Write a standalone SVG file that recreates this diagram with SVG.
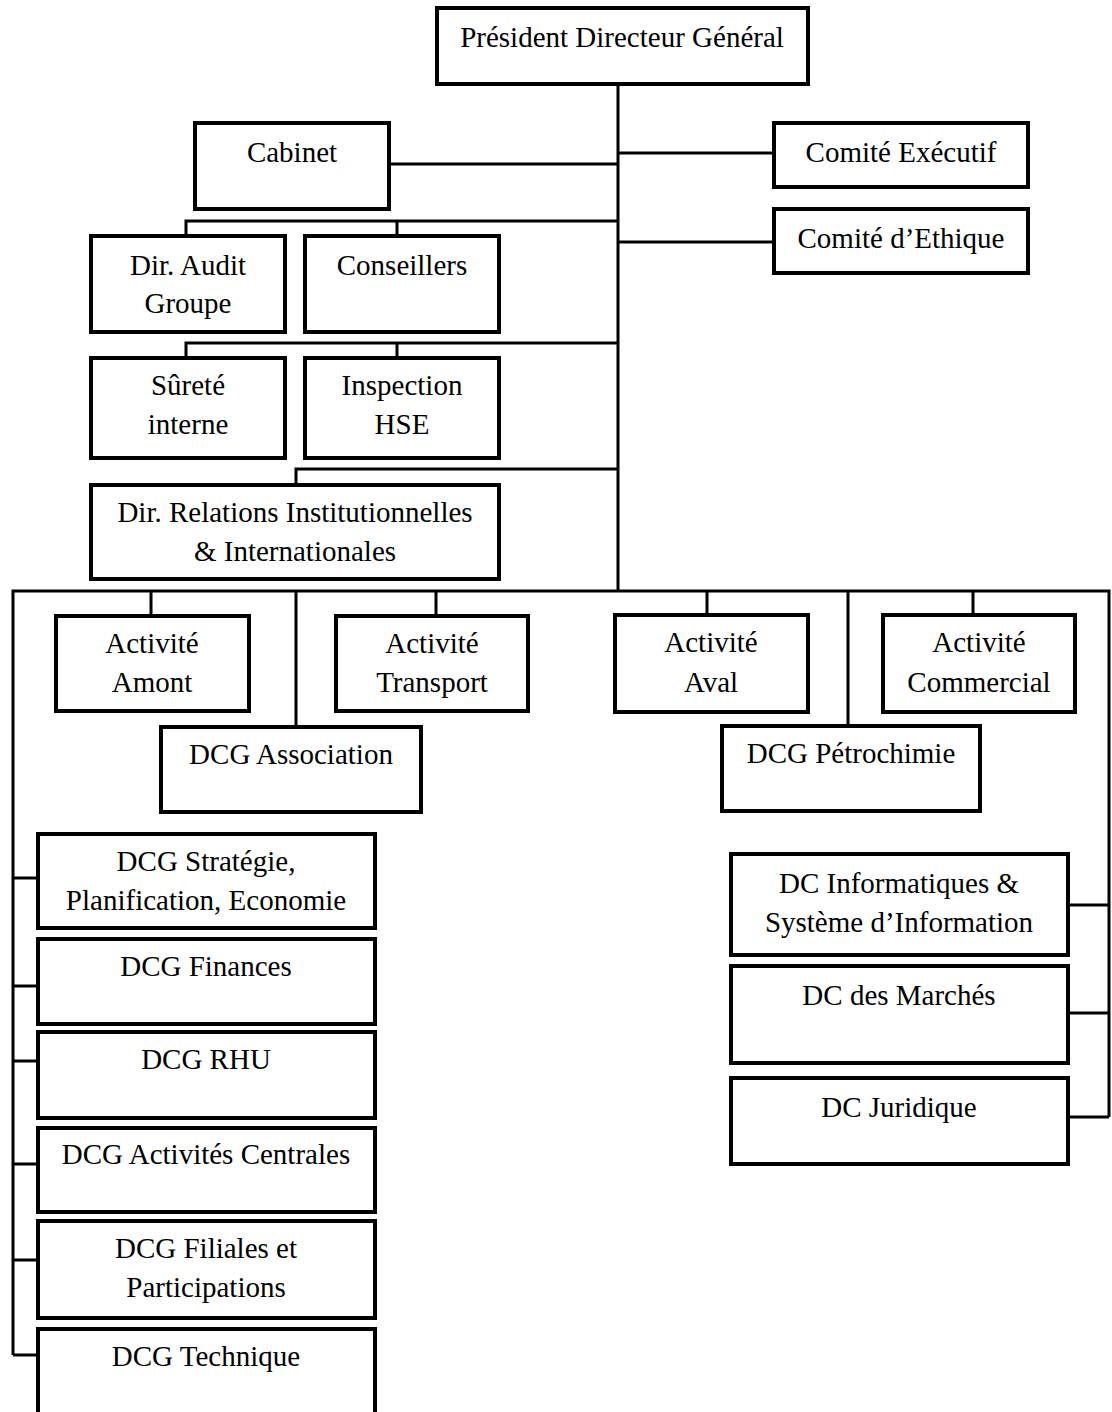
<svg xmlns="http://www.w3.org/2000/svg" width="1112" height="1412" viewBox="0 0 1112 1412">
<style>
.box{fill:#fff;stroke:#000;stroke-width:4}
.ln{fill:none;stroke:#000;stroke-width:3}
text{font-family:"Liberation Serif","Times New Roman",serif;font-size:29px;fill:#000;text-anchor:middle}
</style>
<rect width="1112" height="1412" fill="#fff"/>
<g id="connectors" class="ln">
<path d="M618 84V591"/>
<path d="M389 164H618M618 153H774M618 242H774"/>
<path d="M186 236V221H618M397 221V236"/>
<path d="M186 358V343H618M397 343V358"/>
<path d="M296 485V469H618"/>
<path d="M13 1355V591H1109V1117"/>
<path d="M151 591V616M296 591V727M436 591V616M707 591V615M848 591V726M973 591V615"/>
<path d="M13 878H38M13 986H38M13 1061H38M13 1164H38M13 1260H38M13 1355H38"/>
<path d="M1068 905H1109M1068 1013H1109M1068 1117H1109"/>
</g>
<g id="pdg"><rect class="box" x="437" y="8" width="371" height="76"/><text x="622" y="47">Président Directeur Général</text></g>
<g id="cabinet"><rect class="box" x="195" y="123" width="194" height="86"/><text x="292" y="162">Cabinet</text></g>
<g id="comite-executif"><rect class="box" x="774" y="123" width="254" height="64"/><text x="901" y="162">Comité Exécutif</text></g>
<g id="comite-ethique"><rect class="box" x="774" y="209" width="254" height="64"/><text x="901" y="248">Comité d’Ethique</text></g>
<g id="dir-audit"><rect class="box" x="91" y="236" width="194" height="96"/><text x="188" y="275">Dir. Audit</text><text x="188" y="313">Groupe</text></g>
<g id="conseillers"><rect class="box" x="305" y="236" width="194" height="96"/><text x="402" y="275">Conseillers</text></g>
<g id="surete"><rect class="box" x="91" y="358" width="194" height="100"/><text x="188" y="395">Sûreté</text><text x="188" y="434">interne</text></g>
<g id="inspection"><rect class="box" x="305" y="358" width="194" height="100"/><text x="402" y="395">Inspection</text><text x="402" y="434">HSE</text></g>
<g id="dir-relations"><rect class="box" x="91" y="485" width="408" height="94"/><text x="295" y="522">Dir. Relations Institutionnelles</text><text x="295" y="561">&amp; Internationales</text></g>
<g id="act-amont"><rect class="box" x="56" y="616" width="193" height="95"/><text x="152" y="653">Activité</text><text x="152" y="692">Amont</text></g>
<g id="act-transport"><rect class="box" x="336" y="616" width="192" height="95"/><text x="432" y="653">Activité</text><text x="432" y="692">Transport</text></g>
<g id="act-aval"><rect class="box" x="615" y="615" width="193" height="97"/><text x="711" y="652">Activité</text><text x="711" y="692">Aval</text></g>
<g id="act-commercial"><rect class="box" x="883" y="615" width="192" height="97"/><text x="979" y="652">Activité</text><text x="979" y="692">Commercial</text></g>
<g id="dcg-association"><rect class="box" x="161" y="727" width="260" height="85"/><text x="291" y="764">DCG Association</text></g>
<g id="dcg-petrochimie"><rect class="box" x="722" y="726" width="258" height="85"/><text x="851" y="763">DCG Pétrochimie</text></g>
<g id="dcg-strategie"><rect class="box" x="38" y="834" width="337" height="94"/><text x="206" y="871">DCG Stratégie,</text><text x="206" y="910">Planification, Economie</text></g>
<g id="dcg-finances"><rect class="box" x="38" y="939" width="337" height="85"/><text x="206" y="976">DCG Finances</text></g>
<g id="dcg-rhu"><rect class="box" x="38" y="1032" width="337" height="86"/><text x="206" y="1069">DCG RHU</text></g>
<g id="dcg-activites"><rect class="box" x="38" y="1128" width="337" height="84"/><text x="206" y="1164">DCG Activités Centrales</text></g>
<g id="dcg-filiales"><rect class="box" x="38" y="1221" width="337" height="97"/><text x="206" y="1258">DCG Filiales et</text><text x="206" y="1297">Participations</text></g>
<g id="dcg-technique"><rect class="box" x="38" y="1329" width="337" height="100"/><text x="206" y="1366">DCG Technique</text></g>
<g id="dc-informatiques"><rect class="box" x="731" y="854" width="337" height="101"/><text x="899" y="893">DC Informatiques &amp;</text><text x="899" y="932">Système d’Information</text></g>
<g id="dc-marches"><rect class="box" x="731" y="966" width="337" height="97"/><text x="899" y="1005">DC des Marchés</text></g>
<g id="dc-juridique"><rect class="box" x="731" y="1078" width="337" height="86"/><text x="899" y="1117">DC Juridique</text></g>
</svg>
